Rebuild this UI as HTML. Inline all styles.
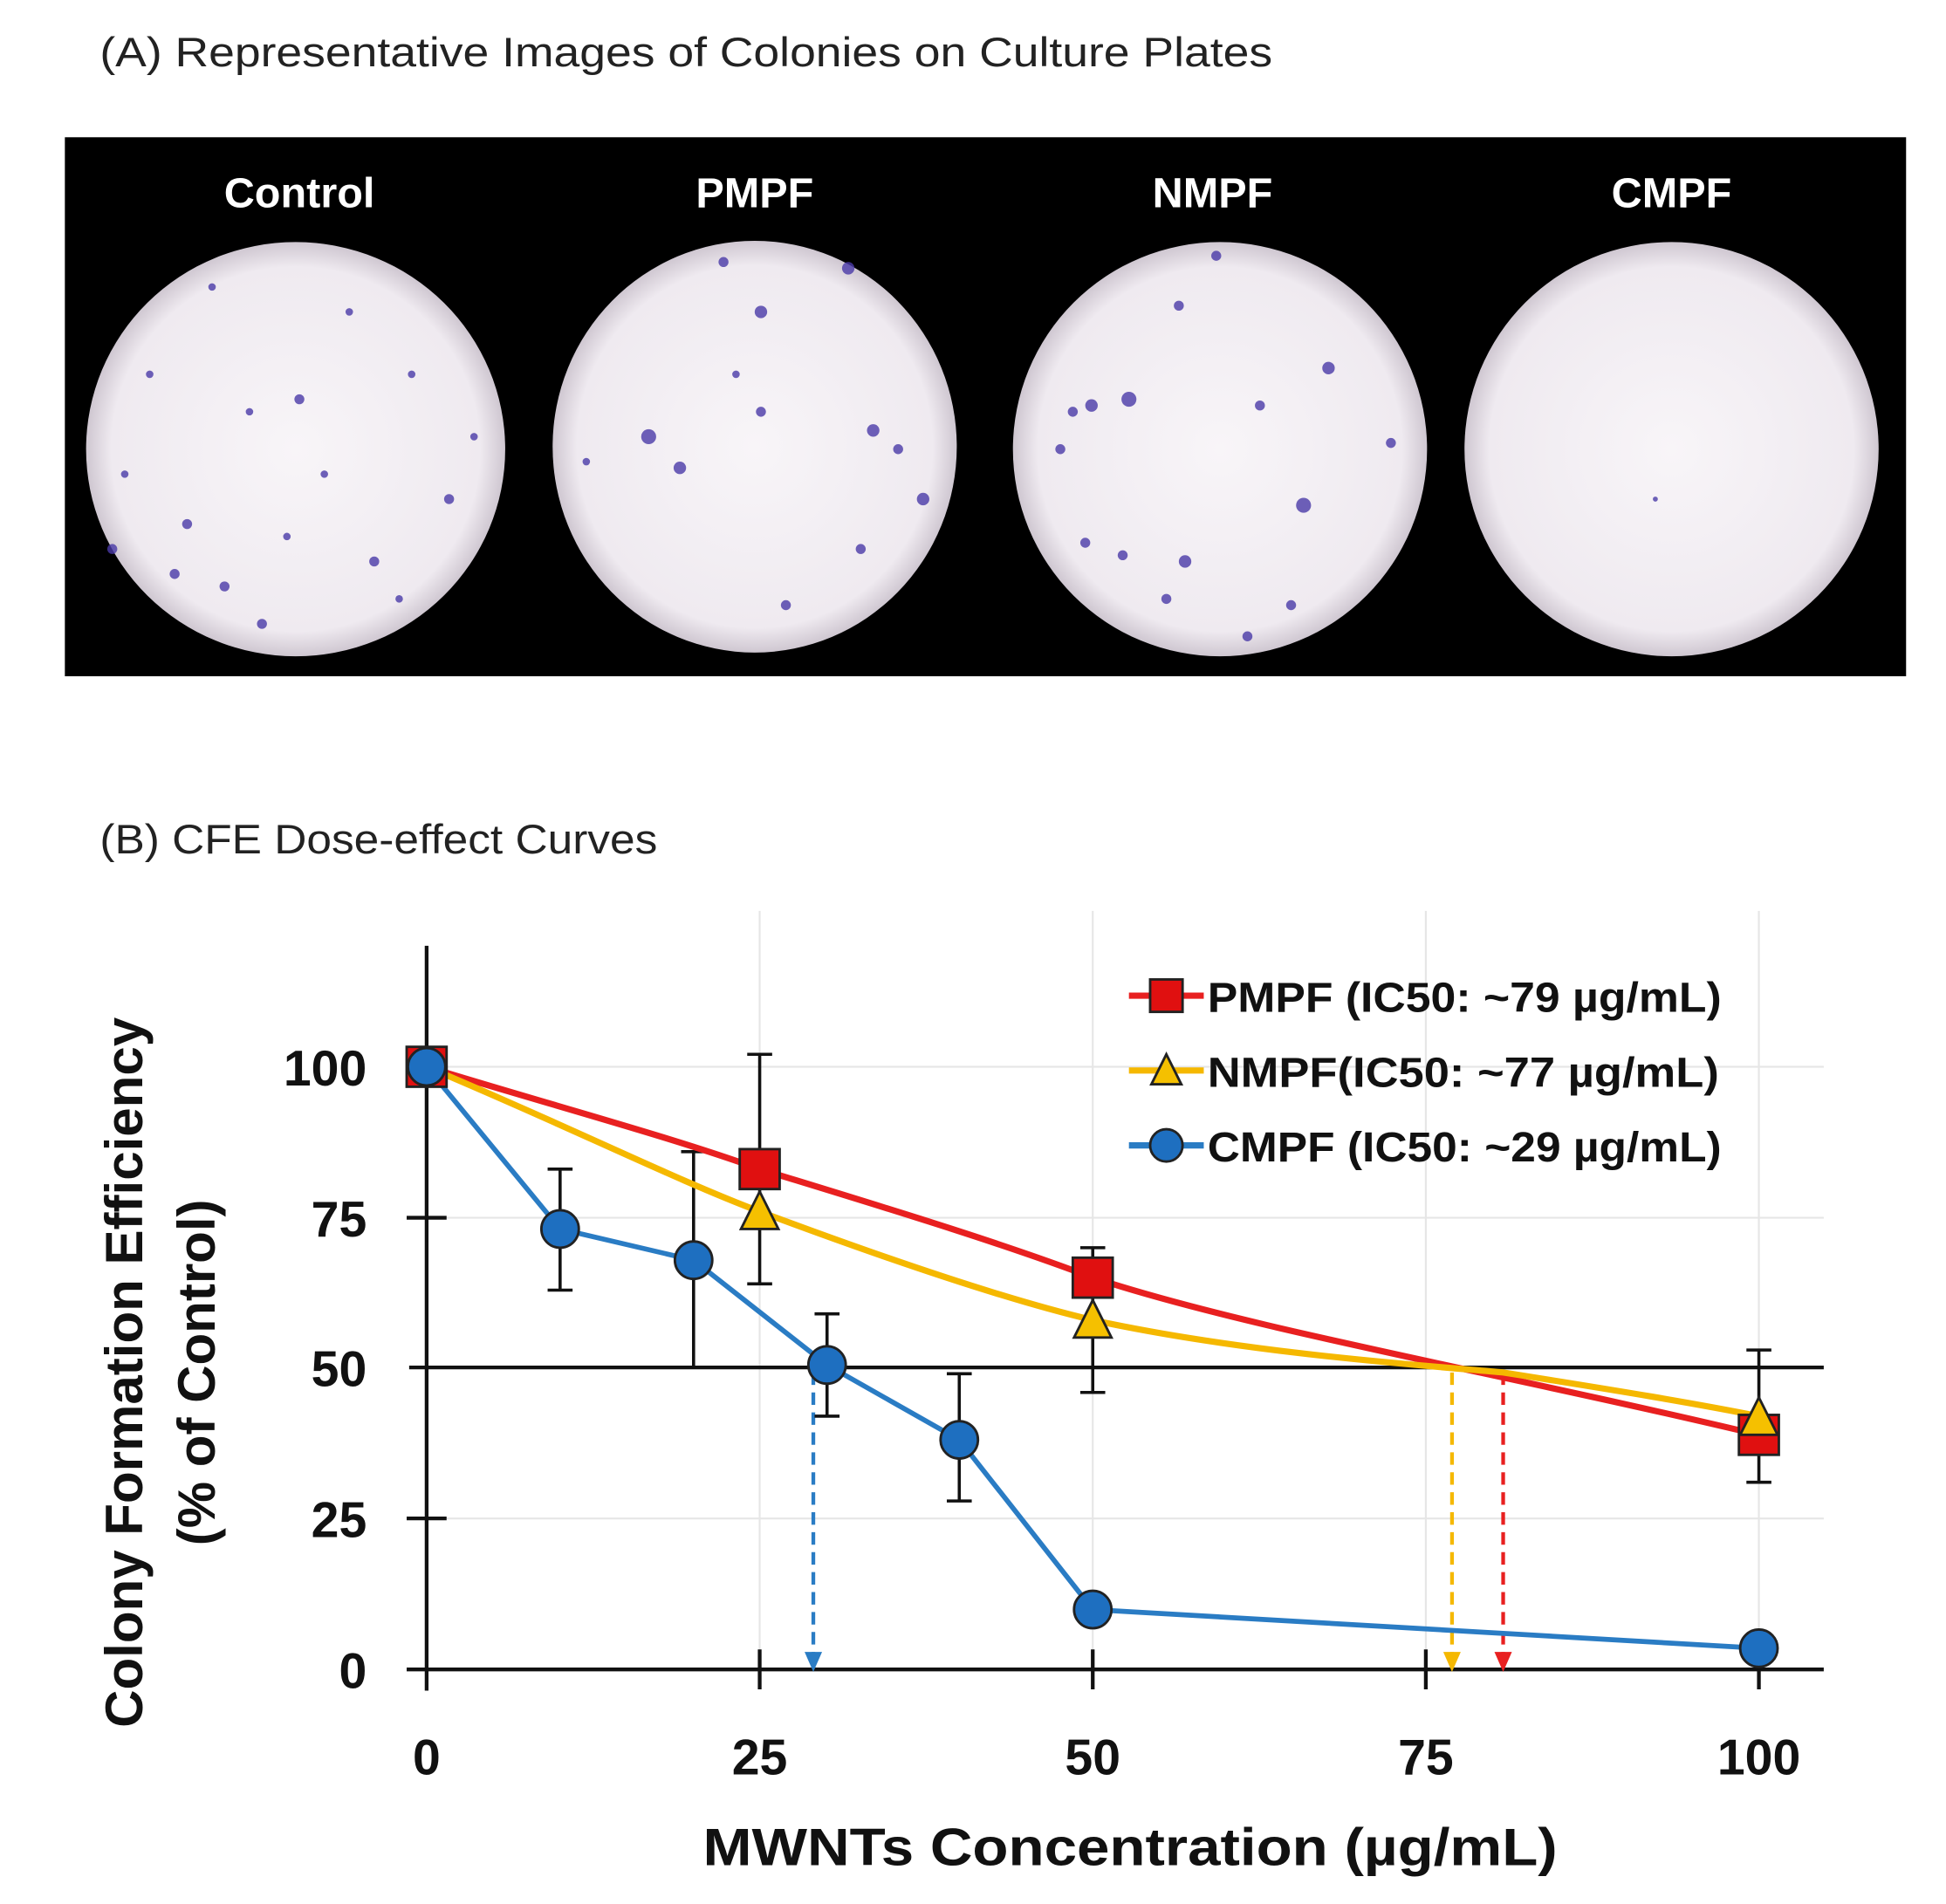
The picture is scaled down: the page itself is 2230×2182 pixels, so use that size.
<!DOCTYPE html>
<html><head><meta charset="utf-8"><style>html,body{margin:0;padding:0;background:#fff}svg{display:block}</style></head>
<body>
<svg width="2230" height="2182" viewBox="0 0 1560 1526" preserveAspectRatio="none" xmlns="http://www.w3.org/2000/svg" font-family="Liberation Sans, sans-serif">
<defs>
<radialGradient id="pl" cx="50%" cy="50%" r="50%"><stop offset="0" stop-color="#f8f5f8"/><stop offset="0.88" stop-color="#efeaf0"/><stop offset="1" stop-color="#cfc7d1"/></radialGradient>
</defs>
<rect width="1560" height="1526" fill="#fff"/>
<text x="80" y="53" font-size="33" fill="#222" textLength="940" lengthAdjust="spacingAndGlyphs">(A) Representative Images of Colonies on Culture Plates</text>
<rect x="52" y="110" width="1476" height="432" fill="#000"/>
<g font-size="34" font-weight="bold" fill="#fff" text-anchor="middle">
<text x="240" y="166">Control</text><text x="605" y="166">PMPF</text><text x="972" y="166">NMPF</text><text x="1340" y="166">CMPF</text></g>
<ellipse cx="237" cy="360" rx="168" ry="166" fill="url(#pl)"/>
<ellipse cx="605" cy="358" rx="162" ry="165" fill="url(#pl)"/>
<ellipse cx="978" cy="360" rx="166" ry="166" fill="url(#pl)"/>
<ellipse cx="1340" cy="360" rx="166" ry="166" fill="url(#pl)"/>
<g fill="#4a3aa8" opacity="0.8">
<circle cx="120" cy="300" r="3"/><circle cx="150" cy="420" r="4"/><circle cx="180" cy="470" r="4"/><circle cx="200" cy="330" r="3"/><circle cx="240" cy="320" r="4"/><circle cx="260" cy="380" r="3"/><circle cx="300" cy="450" r="4"/><circle cx="330" cy="300" r="3"/><circle cx="360" cy="400" r="4"/><circle cx="100" cy="380" r="3"/><circle cx="210" cy="500" r="4"/><circle cx="280" cy="250" r="3"/><circle cx="140" cy="460" r="4"/><circle cx="320" cy="480" r="3"/><circle cx="230" cy="430" r="3"/><circle cx="380" cy="350" r="3"/><circle cx="170" cy="230" r="3"/><circle cx="90" cy="440" r="4"/>
<circle cx="580" cy="210" r="4"/><circle cx="610" cy="250" r="5"/><circle cx="680" cy="215" r="5"/><circle cx="520" cy="350" r="6"/><circle cx="545" cy="375" r="5"/><circle cx="700" cy="345" r="5"/><circle cx="740" cy="400" r="5"/><circle cx="610" cy="330" r="4"/><circle cx="630" cy="485" r="4"/><circle cx="720" cy="360" r="4"/><circle cx="690" cy="440" r="4"/><circle cx="470" cy="370" r="3"/><circle cx="590" cy="300" r="3"/>
<circle cx="905" cy="320" r="6"/><circle cx="875" cy="325" r="5"/><circle cx="860" cy="330" r="4"/><circle cx="975" cy="205" r="4"/><circle cx="1065" cy="295" r="5"/><circle cx="1045" cy="405" r="6"/><circle cx="950" cy="450" r="5"/><circle cx="935" cy="480" r="4"/><circle cx="1035" cy="485" r="4"/><circle cx="900" cy="445" r="4"/><circle cx="870" cy="435" r="4"/><circle cx="1115" cy="355" r="4"/><circle cx="945" cy="245" r="4"/><circle cx="1010" cy="325" r="4"/><circle cx="850" cy="360" r="4"/><circle cx="1000" cy="510" r="4"/>
<circle cx="1327" cy="400" r="2"/>
</g>
<text x="80" y="684" font-size="33" fill="#222" textLength="447" lengthAdjust="spacingAndGlyphs">(B) CFE Dose-effect Curves</text>
<g stroke="#e6e6e6" stroke-width="1.5">
<line x1="328" y1="855" x2="1462" y2="855"/><line x1="328" y1="976" x2="1462" y2="976"/><line x1="328" y1="1217" x2="1462" y2="1217"/>
<line x1="609" y1="730" x2="609" y2="1338"/><line x1="876" y1="730" x2="876" y2="1338"/><line x1="1143" y1="730" x2="1143" y2="1338"/><line x1="1410" y1="730" x2="1410" y2="1338"/>
</g>
<g stroke="#111" stroke-width="3">
<line x1="342" y1="758" x2="342" y2="1355"/>
<line x1="326" y1="1338" x2="1462" y2="1338"/>
<line x1="328" y1="1096" x2="1462" y2="1096"/>
<line x1="326" y1="855" x2="358" y2="855"/><line x1="326" y1="976" x2="358" y2="976"/><line x1="326" y1="1217" x2="358" y2="1217"/>
<line x1="609" y1="1322" x2="609" y2="1354"/><line x1="876" y1="1322" x2="876" y2="1354"/><line x1="1143" y1="1322" x2="1143" y2="1354"/><line x1="1410" y1="1322" x2="1410" y2="1354"/>
</g>
<g font-size="40" font-weight="bold" fill="#111" text-anchor="end">
<text x="294" y="870">100</text><text x="294" y="991">75</text><text x="294" y="1111">50</text><text x="294" y="1232">25</text><text x="294" y="1353">0</text></g>
<g font-size="40" font-weight="bold" fill="#111" text-anchor="middle">
<text x="342" y="1422">0</text><text x="609" y="1422">25</text><text x="876" y="1422">50</text><text x="1143" y="1422">75</text><text x="1410" y="1422">100</text></g>
<text x="906" y="1495" font-size="42" font-weight="bold" fill="#111" text-anchor="middle" textLength="685" lengthAdjust="spacingAndGlyphs">MWNTs Concentration (µg/mL)</text>
<g font-size="42" font-weight="bold" fill="#111" text-anchor="middle">
<text transform="translate(114,1100) rotate(-90)">Colony Formation Efficiency</text>
<text transform="translate(172,1100) rotate(-90)">(% of Control)</text></g>
<g stroke-width="3" stroke-dasharray="10,6">
<line x1="652" y1="1100" x2="652" y2="1326" stroke="#2a7cc4"/>
<line x1="1164" y1="1100" x2="1164" y2="1326" stroke="#f5b800"/>
<line x1="1205" y1="1100" x2="1205" y2="1326" stroke="#e82020"/></g>
<polygon points="645,1324 659,1324 652,1340" fill="#2a7cc4"/>
<polygon points="1157,1324 1171,1324 1164,1340" fill="#f5b800"/>
<polygon points="1198,1324 1212,1324 1205,1340" fill="#e82020"/>
<g stroke="#111" stroke-width="2.5" fill="none">
<path d="M609 845V1029M599 845h20M599 1029h20"/><path d="M876 1000V1116M866 1000h20M866 1116h20"/>
<path d="M1410 1082V1188M1400 1082h20M1400 1188h20"/>
<path d="M449 937V1034M439 937h20M439 1034h20"/><path d="M556 923V1096M546 923h20"/>
<path d="M663 1053V1135M653 1053h20M653 1135h20"/><path d="M769 1101V1203M759 1101h20M759 1203h20"/>
<path d="M342 760V995"/></g>
<path d="M342 855 C450 888 540 912 609 937 C700 965 800 995 876 1024 C1000 1065 1200 1100 1410 1150" fill="none" stroke="#e82020" stroke-width="5"/>
<path d="M342 855 C450 900 540 945 609 971 C700 1005 800 1040 876 1058 C1000 1085 1150 1095 1205 1100 C1300 1115 1360 1125 1410 1135" fill="none" stroke="#f5b800" stroke-width="5"/>
<polyline points="342,855 449,985 556,1010 663,1094 769,1154 876,1290 1410,1321" fill="none" stroke="#2a7cc4" stroke-width="4"/>
<g stroke="#222" stroke-width="2">
<rect x="326" y="839" width="32" height="32" fill="#e01010"/><rect x="593" y="921" width="32" height="32" fill="#e01010"/><rect x="860" y="1008" width="32" height="32" fill="#e01010"/><rect x="1394" y="1134" width="32" height="32" fill="#e01010"/>
<polygon points="609,955 624,985 594,985" fill="#f5c000"/><polygon points="876,1042 891,1072 861,1072" fill="#f5c000"/><polygon points="1410,1120 1425,1150 1395,1150" fill="#f5c000"/>
<g fill="#1e6fc0"><circle cx="342" cy="855" r="15"/><circle cx="449" cy="985" r="15"/><circle cx="556" cy="1010" r="15"/><circle cx="663" cy="1094" r="15"/><circle cx="769" cy="1154" r="15"/><circle cx="876" cy="1290" r="15"/><circle cx="1410" cy="1321" r="15"/></g>
</g>
<line x1="905" y1="798" x2="965" y2="798" stroke="#e82020" stroke-width="5"/>
<rect x="922" y="785" width="26" height="26" fill="#e01010" stroke="#222" stroke-width="2"/>
<line x1="905" y1="858" x2="965" y2="858" stroke="#f5b800" stroke-width="5"/>
<polygon points="935,845 947,869 923,869" fill="#f5c000" stroke="#222" stroke-width="2"/>
<line x1="905" y1="918" x2="965" y2="918" stroke="#2a7cc4" stroke-width="5"/>
<circle cx="935" cy="918" r="13" fill="#1e6fc0" stroke="#222" stroke-width="2"/>
<g font-size="34" font-weight="bold" fill="#111">
<text x="968" y="811" textLength="412" lengthAdjust="spacingAndGlyphs">PMPF (IC50: ~79 µg/mL)</text>
<text x="968" y="871" textLength="410" lengthAdjust="spacingAndGlyphs">NMPF(IC50: ~77 µg/mL)</text>
<text x="968" y="931" textLength="412" lengthAdjust="spacingAndGlyphs">CMPF (IC50: ~29 µg/mL)</text></g>
</svg>
</body></html>
